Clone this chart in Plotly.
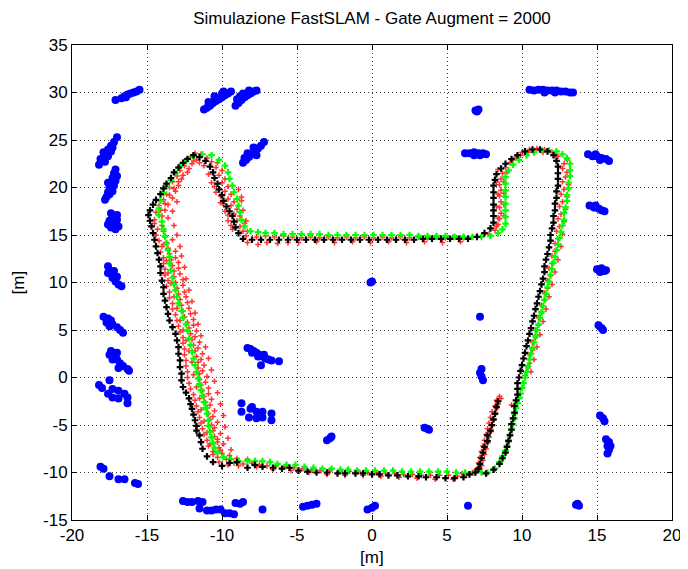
import plotly.graph_objects as go

# ---------------- data ----------------
title_text = "Simulazione FastSLAM - Gate Augment = 2000"
x_label = "[m]"
y_label = "[m]"
x_ticks = [-20, -15, -10, -5, 0, 5, 10, 15, 20]
y_ticks = [-15, -10, -5, 0, 5, 10, 15, 20, 25, 30, 35]

# true trajectory (green)
green_xy = [
    (7.7, -10.0), (8.2, -9.6), (8.5, -8.9), (8.7, -8.3), (8.9, -7.7), (9.0, -7.2), (9.1, -6.6), (9.2, -6.0),
    (9.3, -5.4), (9.4, -4.9), (9.5, -4.3), (9.5, -3.8), (9.6, -3.2), (9.7, -2.7), (9.8, -2.2), (9.9, -1.7),
    (10.0, -1.1), (10.1, -0.6), (10.2, 0.0), (10.3, 0.6), (10.4, 1.2), (10.5, 1.9), (10.6, 2.5), (10.7, 3.1),
    (10.8, 3.7), (10.9, 4.4), (11.0, 5.0), (11.1, 5.6), (11.2, 6.3), (11.3, 6.9), (11.4, 7.5), (11.5, 8.2),
    (11.6, 8.8), (11.7, 9.5), (11.8, 10.1), (11.9, 10.8), (12.0, 11.4), (12.1, 12.1), (12.2, 12.7), (12.3, 13.4),
    (12.4, 14.0), (12.5, 14.7), (12.6, 15.3), (12.7, 16.0), (12.8, 16.6), (12.8, 17.3), (12.9, 17.9), (13.0, 18.6),
    (13.0, 19.2), (13.1, 19.9), (13.1, 20.5), (13.2, 21.2), (13.2, 21.8), (13.2, 22.5), (13.0, 23.1), (12.7, 23.5),
    (12.3, 23.8), (11.8, 23.9), (11.3, 23.9), (10.8, 23.7), (10.3, 23.4), (9.8, 22.9), (9.4, 22.4), (9.1, 21.8),
    (8.9, 21.1), (8.9, 20.4), (8.9, 19.7), (8.9, 19.0), (8.9, 18.3), (8.9, 17.6), (8.9, 16.9), (8.9, 16.2),
    (8.7, 15.6), (8.4, 15.2), (7.9, 14.9), (7.3, 14.8), (6.7, 14.8),
    (6.1, 14.8), (5.5, 14.8), (4.9, 14.9), (4.3, 14.9), (3.7, 14.9), (3.1, 14.9), (2.5, 15.0), (1.9, 15.0),
    (1.3, 15.0), (0.7, 15.0), (0.1, 15.0), (-0.5, 15.0), (-1.1, 15.0), (-1.7, 15.0), (-2.3, 15.0), (-2.9, 15.0),
    (-3.5, 15.1), (-4.1, 15.1), (-4.7, 15.1), (-5.3, 15.1), (-5.9, 15.1), (-6.5, 15.2), (-7.1, 15.2), (-7.6, 15.3),
    (-8.1, 15.4),
    (-8.5, 15.9), (-8.7, 16.6), (-8.8, 17.4), (-8.9, 18.1), (-9.0, 18.8), (-9.2, 19.5), (-9.3, 20.2), (-9.5, 20.9),
    (-9.6, 21.6), (-9.8, 22.3), (-10.2, 22.9), (-10.7, 23.4), (-11.3, 23.5), (-11.9, 23.3), (-12.4, 22.8),
    (-12.8, 22.2), (-13.1, 21.5), (-13.4, 20.8), (-13.7, 20.1), (-13.9, 19.4), (-14.1, 18.6), (-14.2, 17.8),
    (-14.2, 17.1), (-14.0, 16.4), (-13.9, 15.6), (-13.8, 14.9), (-13.7, 14.1), (-13.6, 13.4), (-13.5, 12.7),
    (-13.5, 12.0), (-13.4, 11.3), (-13.3, 10.5), (-13.2, 9.8), (-13.1, 9.2), (-13.0, 8.5), (-12.9, 7.8),
    (-12.7, 7.0), (-12.6, 6.3), (-12.4, 5.6), (-12.3, 4.9), (-12.2, 4.1), (-12.1, 3.4), (-12.0, 2.7),
    (-11.9, 2.0), (-11.8, 1.3), (-11.7, 0.6), (-11.6, -0.1), (-11.5, -0.7), (-11.4, -1.3), (-11.3, -1.9),
    (-11.2, -2.6), (-11.1, -3.2), (-11.0, -3.8), (-10.9, -4.5), (-10.9, -5.1), (-10.8, -5.7), (-10.7, -6.3),
    (-10.6, -6.9), (-10.5, -7.4), (-10.3, -7.9), (-9.9, -8.4), (-9.4, -8.6), (-8.9, -8.8), (-8.3, -8.8),
    (-7.8, -8.8), (-7.3, -8.8), (-6.8, -8.9), (-6.3, -9.1), (-5.7, -9.2), (-5.1, -9.2), (-4.5, -9.4),
    (-3.9, -9.5), (-3.3, -9.6), (-2.7, -9.6), (-2.1, -9.7), (-1.6, -9.7), (-1.0, -9.8), (-0.4, -9.8),
    (0.2, -9.8), (0.8, -9.8), (1.4, -9.8), (2.0, -9.9), (2.6, -9.9), (3.2, -9.9), (3.8, -9.9), (4.4, -9.9),
    (5.0, -9.9), (5.6, -10.0), (6.2, -10.0), (6.8, -10.0), (7.3, -10.0),
]

# estimated trajectory (black)
black_xy = [
    (7.6, -10.1), (8.1, -9.7), (8.5, -9.1), (8.7, -8.5), (8.9, -7.9), (9.0, -7.3), (9.1, -6.7), (9.2, -6.1),
    (9.3, -5.5), (9.3, -4.9), (9.4, -4.3), (9.5, -3.7), (9.5, -3.0), (9.6, -2.4), (9.7, -1.8), (9.7, -1.2),
    (9.7, -0.6), (9.8, 0.0), (9.9, 0.7), (10.0, 1.3), (10.1, 2.0), (10.2, 2.6), (10.3, 3.3), (10.4, 3.9),
    (10.5, 4.6), (10.6, 5.2), (10.7, 5.9), (10.8, 6.5), (10.9, 7.2), (11.0, 7.8), (11.1, 8.5), (11.2, 9.1),
    (11.3, 9.8), (11.4, 10.4), (11.5, 11.1), (11.5, 11.7), (11.6, 12.4), (11.7, 13.0), (11.8, 13.7),
    (11.9, 14.4), (11.9, 15.0), (12.0, 15.7), (12.1, 16.3), (12.1, 17.0), (12.2, 17.6), (12.2, 18.3),
    (12.3, 18.9), (12.3, 19.6), (12.4, 20.2), (12.4, 20.9), (12.4, 21.5), (12.4, 22.2), (12.3, 22.8),
    (12.1, 23.4), (11.7, 23.8), (11.2, 24.0), (10.7, 24.0), (10.2, 23.8), (9.7, 23.4), (9.3, 23.0),
    (8.9, 22.5), (8.6, 22.0), (8.3, 21.4), (8.2, 20.8), (8.1, 20.2), (8.1, 19.5), (8.1, 18.9), (8.1, 18.2),
    (8.1, 17.6), (8.1, 17.0), (8.1, 16.3), (7.9, 15.7), (7.5, 15.2), (7.0, 14.8),
    (6.4, 14.6), (5.8, 14.6), (5.2, 14.6), (4.6, 14.6), (4.0, 14.6), (3.4, 14.6), (2.8, 14.5), (2.2, 14.5),
    (1.6, 14.5), (1.0, 14.5), (0.4, 14.5), (-0.2, 14.5), (-0.8, 14.5), (-1.4, 14.5), (-2.0, 14.5),
    (-2.6, 14.5), (-3.2, 14.5), (-3.8, 14.5), (-4.4, 14.5), (-5.0, 14.5), (-5.6, 14.5), (-6.2, 14.5),
    (-6.8, 14.5), (-7.4, 14.5), (-8.0, 14.5),
    (-8.6, 14.6), (-8.9, 15.2), (-9.1, 15.8), (-9.2, 16.4), (-9.3, 17.0), (-9.5, 17.5), (-9.7, 18.0),
    (-9.9, 18.6), (-10.0, 19.2), (-10.2, 19.8), (-10.3, 20.4), (-10.5, 21.0), (-10.6, 21.6), (-10.8, 22.2),
    (-11.1, 22.8), (-11.5, 23.2), (-11.9, 23.4), (-12.3, 23.0), (-12.6, 22.6), (-12.9, 22.1), (-13.2, 21.6),
    (-13.4, 21.0), (-13.7, 20.4), (-13.9, 19.9), (-14.1, 19.3), (-14.4, 18.7), (-14.6, 18.2), (-14.8, 17.6),
    (-14.9, 17.1), (-14.8, 16.5), (-14.7, 15.9), (-14.6, 15.2), (-14.5, 14.5), (-14.4, 13.8), (-14.3, 13.1),
    (-14.2, 12.4), (-14.1, 11.7), (-14.1, 11.0), (-14.0, 10.2), (-13.9, 9.5), (-13.9, 8.8), (-13.8, 8.1),
    (-13.7, 7.4), (-13.6, 6.7), (-13.5, 6.0), (-13.3, 5.3), (-13.1, 4.6), (-13.0, 3.9), (-12.9, 3.2),
    (-12.9, 2.5), (-12.8, 1.8), (-12.8, 1.1), (-12.7, 0.4), (-12.7, -0.3), (-12.6, -1.0), (-12.4, -1.6),
    (-12.2, -2.2), (-12.1, -2.8), (-12.0, -3.3), (-11.9, -3.9), (-11.8, -4.5), (-11.7, -5.1), (-11.7, -5.6),
    (-11.5, -6.1), (-11.4, -6.8), (-11.3, -7.5), (-11.0, -8.3), (-10.6, -8.9), (-10.0, -9.3), (-9.5, -9.0),
    (-9.0, -8.9), (-8.3, -9.5), (-7.8, -9.2), (-7.3, -9.4), (-6.6, -9.5), (-6.0, -9.6), (-5.5, -9.5),
    (-4.9, -9.8), (-4.3, -9.9), (-3.7, -10.0), (-3.0, -10.0), (-2.3, -10.1), (-1.8, -10.1), (-1.1, -10.1),
    (-0.6, -10.1), (0.0, -10.2), (0.5, -10.2), (1.1, -10.3), (1.7, -10.3), (2.4, -10.4), (3.1, -10.4),
    (3.6, -10.5), (4.3, -10.5), (4.9, -10.6), (5.5, -10.6), (6.1, -10.5), (6.5, -10.2), (6.9, -10.0),
    (7.1, -9.6), (7.2, -9.1), (7.3, -8.5), (7.4, -7.9), (7.5, -7.3), (7.7, -6.7), (7.7, -6.1), (7.9, -5.6),
    (8.0, -5.0), (8.1, -4.4), (8.2, -3.8), (8.3, -3.1), (8.4, -2.5),
]

# particles (red)
red_xy = [
    # right side
    (10.2, 0.2), (10.4, 1.0), (10.5, 1.5), (10.5, 2.4), (10.7, 2.9), (10.7, 3.7), (10.9, 4.2), (10.9, 5.0),
    (11.1, 5.5), (11.1, 6.3), (11.3, 6.8), (11.3, 7.6), (11.5, 8.1), (11.5, 8.9), (11.7, 9.4), (11.7, 10.2),
    (11.9, 10.7), (11.8, 11.5), (12.0, 12.0), (12.0, 12.8), (12.2, 13.3), (12.2, 14.1), (12.4, 14.6),
    (12.3, 15.4), (12.5, 15.9), (12.4, 16.7), (12.6, 17.2), (12.5, 18.0), (12.7, 18.5), (12.6, 19.3),
    (12.8, 19.8), (12.7, 20.6), (12.9, 21.1), (12.7, 22.0), (12.8, 22.5),
    (10.6, 0.6), (10.8, 1.9), (11.0, 3.2), (11.2, 4.5), (11.4, 5.9), (11.6, 7.2), (11.8, 8.5), (12.0, 9.8),
    (12.2, 11.1), (12.4, 12.4), (12.6, 13.8), (12.7, 15.1), (12.8, 16.4), (12.9, 17.7), (13.0, 19.0),
    (13.1, 20.3), (13.0, 21.6), (13.0, 22.9),
    # top right arc and inner leg
    (12.4, 23.3), (12.0, 23.7), (11.5, 24.0), (11.0, 24.1), (10.5, 24.0), (10.0, 23.7), (9.6, 23.2),
    (9.2, 22.6), (8.9, 22.1), (8.7, 21.5), (8.6, 20.9), (8.5, 20.3), (8.6, 19.7), (8.5, 19.1), (8.6, 18.5),
    (8.5, 17.9), (8.6, 17.3), (8.5, 16.7), (8.4, 16.1), (8.2, 15.5), (7.8, 15.1), (8.8, 20.6), (8.8, 19.4),
    (8.8, 18.2), (8.8, 17.0), (8.4, 21.9), (8.3, 20.6), (8.4, 19.3), (8.3, 18.0), (8.4, 16.8), (8.3, 15.9),
    (9.0, 21.6), (9.4, 22.9), (9.9, 23.4), (10.4, 23.7), (11.4, 23.7), (12.2, 23.4),
    # middle horizontal
    (6.1, 14.7), (5.5, 14.8), (4.9, 14.7), (4.3, 14.8), (3.7, 14.7), (3.1, 14.8), (2.5, 14.7), (1.9, 14.8),
    (1.3, 14.7), (0.7, 14.8), (0.1, 14.7), (-0.5, 14.8), (-1.1, 14.7), (-1.7, 14.8), (-2.3, 14.7),
    (-2.9, 14.8), (-3.5, 14.7), (-4.1, 14.8), (-4.7, 14.7), (-5.3, 14.8), (-5.9, 14.9), (-6.5, 14.8),
    (-7.1, 14.9), (-7.7, 14.8), (-6.3, 14.1), (-7.0, 14.2), (-7.6, 14.0), (-5.6, 14.2),
    (-4.9, 14.2), (-3.7, 14.3), (-2.5, 14.2), (-1.3, 14.3), (-0.1, 14.2), (1.1, 14.3), (2.3, 14.2),
    (3.5, 14.3), (4.7, 14.2), (5.9, 14.3), (-8.3, 14.2),
    # top-left loop
    (-8.4, 14.9), (-8.6, 15.4), (-8.8, 15.9), (-8.5, 16.2), (-9.0, 16.5), (-8.8, 17.0), (-9.2, 17.2),
    (-9.0, 17.7), (-9.4, 18.1), (-9.2, 18.5), (-9.6, 18.8), (-9.4, 19.3), (-9.8, 19.6), (-9.6, 20.1),
    (-10.0, 20.5), (-9.8, 20.9), (-10.2, 21.3), (-10.0, 21.8), (-10.4, 22.1), (-10.3, 22.6), (-10.7, 22.7),
    (-11.0, 23.1), (-9.4, 16.0), (-9.6, 17.1), (-9.9, 18.3), (-10.1, 19.1), (-10.5, 20.1), (-8.7, 18.6),
    (-8.9, 19.8), (-11.4, 23.5), (-11.8, 23.6), (-12.1, 23.2), (-12.4, 22.9), (-11.7, 22.9), (-12.0, 22.5),
    (-12.5, 22.3), (-12.8, 21.8), (-12.3, 21.6), (-13.0, 21.2), (-12.7, 20.9), (-13.3, 20.6), (-12.9, 20.2),
    (-13.5, 20.0), (-13.1, 19.6), (-13.7, 19.3), (-13.3, 18.9), (-13.9, 18.7), (-13.6, 18.2), (-14.2, 18.1),
    (-13.8, 17.6), (-14.4, 17.4), (-14.0, 17.0), (-14.5, 16.6), (-13.6, 16.8),
    (-9.3, 15.6), (-9.6, 16.5), (-9.8, 17.5), (-10.1, 18.4), (-10.4, 19.5), (-10.7, 20.5), (-10.9, 21.4),
    (-11.2, 22.3), (-8.3, 15.4), (-8.4, 16.5), (-8.6, 17.6), (-8.7, 19.0), (-11.5, 22.6), (-11.9, 22.8),
    (-12.2, 22.0), (-12.6, 21.3), (-12.9, 20.6), (-13.2, 19.9), (-13.5, 19.2), (-13.8, 18.3), (-14.1, 17.6),
    (-13.3, 17.5), (-13.0, 18.5),
    # left side
    (-14.5, 16.2), (-14.0, 16.0), (-14.3, 15.6), (-13.9, 15.4), (-14.4, 15.0), (-13.8, 14.8), (-14.2, 14.4),
    (-13.7, 14.2), (-13.3, 14.5), (-14.0, 13.8), (-13.6, 13.6), (-14.1, 13.2), (-13.5, 13.0), (-13.1, 13.3),
    (-13.9, 12.6), (-13.4, 12.4), (-13.9, 12.0), (-13.3, 11.8), (-12.9, 12.1), (-13.8, 11.4), (-13.2, 11.2),
    (-13.8, 10.8), (-13.2, 10.6), (-12.8, 10.9), (-13.6, 10.2), (-13.1, 10.0), (-13.7, 9.6), (-13.0, 9.4),
    (-12.6, 9.7), (-13.5, 9.0), (-12.9, 8.8), (-13.5, 8.4), (-12.8, 8.2), (-12.4, 8.5), (-13.3, 7.8),
    (-12.7, 7.6), (-13.3, 7.2), (-12.6, 7.0), (-12.2, 7.3), (-13.1, 6.6), (-12.5, 6.4), (-13.0, 6.0),
    (-12.3, 5.8), (-11.9, 6.1), (-12.9, 5.4), (-12.2, 5.2), (-12.8, 4.8), (-12.1, 4.6), (-11.7, 4.9),
    (-12.6, 4.2), (-12.0, 4.0), (-12.6, 3.6), (-11.9, 3.4), (-11.5, 3.7), (-12.5, 3.0), (-11.8, 2.8),
    (-12.5, 2.4), (-11.7, 2.2), (-11.3, 2.5), (-12.4, 1.8), (-11.6, 1.6), (-12.4, 1.2), (-11.6, 1.0),
    (-11.2, 1.3), (-12.3, 0.6), (-11.5, 0.4), (-12.3, 0.0), (-11.5, -0.2), (-11.0, 0.1), (-12.2, -0.6),
    (-11.4, -0.8), (-12.1, -1.2), (-11.3, -1.4), (-10.9, -1.1), (-11.9, -1.8), (-11.2, -2.0), (-11.8, -2.4),
    (-11.1, -2.6), (-10.7, -2.3), (-11.7, -3.0), (-11.0, -3.2), (-11.6, -3.6), (-10.9, -3.8), (-10.5, -3.5),
    (-11.5, -4.2), (-10.8, -4.4), (-11.4, -4.8), (-10.7, -5.0), (-10.3, -4.7), (-11.3, -5.4), (-10.6, -5.6),
    (-11.2, -6.0), (-10.5, -6.2), (-10.1, -5.9), (-11.0, -6.6), (-10.3, -6.8), (-10.9, -7.2), (-10.2, -7.4),
    (-9.9, -7.0), (-10.6, -7.8), (-10.0, -8.0), (-10.3, -8.4), (-9.7, -8.6), (-9.5, -8.2),
    (-13.2, 16.0), (-13.0, 15.0), (-12.8, 13.8), (-12.7, 12.8), (-12.5, 11.6), (-12.4, 10.4), (-12.2, 9.2),
    (-12.0, 8.0), (-11.8, 6.8), (-11.6, 5.6), (-11.4, 4.4), (-11.1, 3.2), (-10.9, 2.0), (-10.7, 0.8),
    (-10.5, -0.4), (-10.3, -1.6), (-10.1, -2.8), (-9.9, -4.0), (-9.8, -5.2), (-9.6, -6.4), (-9.4, -7.6),
    (-13.9, 14.0), (-13.7, 12.3), (-13.6, 11.0), (-13.4, 9.9), (-13.2, 8.5), (-13.0, 7.3), (-12.8, 6.0),
    (-12.6, 5.0), (-12.4, 3.9), (-12.2, 2.8), (-12.0, 1.6), (-11.9, 0.3), (-11.7, -1.0), (-11.5, -2.2),
    (-11.4, -3.4), (-11.2, -4.6), (-11.0, -5.8), (-10.8, -7.0), (-10.6, -8.1), (-13.1, 12.6), (-12.9, 11.5),
    (-12.6, 10.3), (-12.5, 9.0), (-12.3, 7.9), (-12.1, 6.7), (-11.9, 5.5), (-11.8, 4.3), (-11.6, 3.1),
    (-11.4, 1.9), (-11.3, 0.7), (-11.1, -0.5), (-10.9, -1.7), (-10.8, -2.9), (-10.6, -4.1), (-10.5, -5.3),
    (-10.3, -6.5), (-10.1, -7.7),
    # bottom
    (-9.2, -9.0), (-8.6, -9.1), (-8.0, -9.0), (-7.5, -9.2), (-7.0, -9.3), (-6.4, -9.3), (-5.8, -9.4),
    (-5.2, -9.5), (-4.6, -9.6), (-4.0, -9.7), (-3.4, -9.8), (-2.8, -9.8), (-2.1, -9.9), (-1.5, -9.9),
    (-0.9, -9.9), (-0.3, -10.0), (0.3, -10.0), (0.9, -10.1), (1.5, -10.1), (2.1, -10.2), (2.7, -10.2),
    (3.3, -10.3), (3.9, -10.3), (4.5, -10.3), (5.1, -10.3), (5.7, -10.4), (6.3, -10.3), (6.7, -10.0),
    (-9.0, -8.5), (-8.3, -8.6), (-8.9, -9.3), (-7.7, -9.4), (-6.6, -9.7), (-5.4, -9.8), (-4.2, -10.0),
    (-3.0, -10.2), (-1.8, -10.3), (-0.6, -10.3), (0.6, -10.4), (1.8, -10.5), (3.0, -10.6), (4.2, -10.7),
    (5.4, -10.7), (6.0, -10.1), (-9.6, -9.2), (-10.2, -8.9),
    # final leg
    (7.0, -9.6), (7.1, -9.0), (7.2, -8.4), (7.3, -7.8), (7.4, -7.2), (7.5, -6.6), (7.6, -6.0), (7.7, -5.4),
    (7.8, -4.8), (7.9, -4.2), (8.0, -3.6), (8.2, -3.0), (8.3, -2.4), (8.5, -2.0), (8.4, -2.8), (7.3, -9.3),
    (7.5, -8.1), (7.7, -6.9), (7.9, -5.7), (8.1, -4.5), (8.3, -3.3), (9.3, -2.9), (6.9, -9.9), (7.2, -9.6),
    (7.4, -8.7), (7.6, -7.5), (7.8, -6.3), (8.0, -5.1), (8.2, -3.9), (8.4, -2.7), (8.6, -2.2),
]

# landmarks (blue)
landmark_xy = [
    (-18.2, 22.4), (-18.0, 22.8), (-17.9, 23.2), (-17.7, 23.6), (-17.6, 24.0), (-17.4, 24.4), (-17.2, 24.8),
    (-17.0, 25.3), (-17.8, 22.7), (-17.6, 23.3), (-17.4, 23.8), (-17.9, 23.7), (-17.3, 24.2), (-18.1, 23.0),
    (-17.7, 19.0), (-17.6, 19.5), (-17.5, 20.0), (-17.4, 20.5), (-17.3, 21.0), (-17.2, 21.5), (-17.1, 21.9),
    (-17.2, 20.2), (-17.1, 20.7), (-17.5, 19.3), (-17.8, 18.7), (-17.0, 21.2), (-17.6, 20.5), (-17.3, 19.6),
    (-17.4, 17.3), (-17.3, 16.9), (-17.5, 16.5), (-17.2, 16.2), (-17.4, 15.8), (-17.1, 15.6), (-17.0, 16.6),
    (-17.0, 17.1), (-17.6, 16.1), (-16.9, 15.9),
    (-17.6, 11.7), (-17.5, 11.3), (-17.4, 10.9), (-17.3, 10.5), (-17.1, 10.1), (-16.9, 9.8), (-16.7, 9.6),
    (-17.2, 11.2), (-17.0, 10.6), (-17.6, 11.0),
    (-17.9, 6.4), (-17.6, 6.2), (-17.4, 6.0), (-17.7, 5.8), (-17.3, 5.6), (-17.0, 5.3), (-16.8, 5.0),
    (-16.6, 4.7), (-17.5, 5.4),
    (-17.4, 2.8), (-17.5, 2.4), (-17.2, 2.2), (-17.0, 1.9), (-16.8, 1.5), (-16.6, 1.2), (-16.3, 0.9),
    (-16.2, 0.7), (-17.3, 1.9), (-16.9, 1.0), (-17.0, 2.6),
    (-18.2, -0.8), (-18.0, -1.1), (-17.5, -0.3), (-17.6, -1.7), (-17.3, -1.2), (-16.9, -1.4), (-17.3, -2.1),
    (-16.9, -2.2), (-16.5, -1.7), (-16.3, -2.1), (-16.3, -2.7),
    (-18.1, -9.4), (-17.9, -9.6), (-17.5, -10.4), (-16.9, -10.7), (-16.5, -10.7), (-15.8, -11.1),
    (-15.6, -11.2),
    (-17.1, 29.2), (-16.7, 29.4), (-16.5, 29.6), (-16.3, 29.8), (-16.1, 29.9), (-15.9, 30.0), (-15.7, 30.1),
    (-15.5, 30.3), (-16.4, 29.5),
    (-11.0, 28.4), (-10.8, 28.6), (-10.6, 28.9), (-10.4, 29.1), (-10.2, 29.3), (-10.0, 29.5), (-9.8, 29.7),
    (-9.6, 29.9), (-9.4, 30.1), (-10.5, 29.6), (-10.0, 29.9), (-10.9, 29.0), (-11.2, 28.2), (-9.9, 30.1),
    (-9.1, 28.6), (-8.9, 28.9), (-8.7, 29.2), (-8.5, 29.5), (-8.3, 29.7), (-8.1, 29.9), (-7.9, 30.1),
    (-7.7, 30.2), (-8.6, 29.9), (-8.8, 29.6), (-8.2, 30.2), (-9.0, 29.3),
    (-8.6, 22.6), (-8.4, 22.9), (-8.2, 23.2), (-8.0, 23.5), (-7.8, 23.8), (-7.6, 24.1), (-7.4, 24.4),
    (-7.2, 24.8), (-8.3, 23.6), (-7.9, 24.2), (-8.5, 23.1), (-7.7, 23.4),
    (10.5, 30.3), (10.8, 30.2), (11.1, 30.3), (11.4, 30.3), (11.7, 30.2), (12.0, 30.2), (12.3, 30.2),
    (12.6, 30.1), (12.9, 30.1), (13.2, 30.0), (13.4, 30.0), (11.5, 30.0), (12.2, 30.0),
    (6.9, 28.1), (7.1, 28.2), (7.0, 28.0),
    (6.2, 23.6), (6.5, 23.6), (6.8, 23.7), (7.1, 23.6), (7.4, 23.6), (7.6, 23.5), (6.8, 23.4), (7.2, 23.4),
    (14.4, 23.5), (14.7, 23.3), (15.0, 23.3), (15.3, 23.1), (15.6, 23.0), (15.8, 22.8), (15.2, 22.9),
    (14.9, 23.5),
    (14.5, 18.1), (14.8, 17.9), (15.1, 17.8), (15.3, 17.6), (15.5, 17.5), (14.9, 18.1),
    (15.0, 11.4), (15.3, 11.5), (15.5, 11.2), (15.2, 11.1), (15.6, 11.3),
    (15.1, 5.5), (15.3, 5.2), (15.4, 5.0),
    (15.2, -4.0), (15.4, -4.3), (15.5, -4.6),
    (15.6, -6.5), (15.8, -6.8), (15.7, -7.2), (15.8, -7.6), (15.7, -8.0), (15.9, -7.2),
    (-8.3, 3.1), (-8.1, 3.0), (-7.9, 2.8), (-7.7, 2.6), (-7.5, 2.4), (-7.3, 2.2), (-7.1, 2.0), (-6.9, 1.9),
    (-6.7, 1.8), (-8.0, 2.6), (-7.6, 2.2), (-7.2, 2.4), (-7.4, 1.3), (-6.2, 1.7),
    (-8.7, -2.7), (-8.7, -3.6), (-8.1, -3.3), (-7.7, -3.6), (-7.3, -3.6), (-8.2, -4.2), (-7.7, -4.3),
    (-7.3, -4.2), (-6.7, -3.8), (-6.7, -4.5), (-8.0, -3.1),
    (-3.0, -6.6), (-2.8, -6.4), (-2.7, -6.2),
    (3.5, -5.3), (3.7, -5.4), (3.8, -5.5),
    (0.0, 10.1), (-0.1, 10.0),
    (7.2, 6.4),
    (7.3, 0.9), (7.2, 0.5), (7.3, 0.1), (7.4, -0.3),
    (-12.6, -13.0), (-12.3, -13.1), (-12.0, -13.1), (-11.6, -13.0), (-11.3, -13.1), (-11.5, -13.8),
    (-11.0, -14.0), (-10.7, -14.0), (-10.4, -13.9), (-10.1, -13.9), (-9.8, -14.3), (-9.5, -14.3),
    (-9.2, -14.4), (-9.1, -13.2), (-8.8, -13.3), (-8.6, -13.1), (-7.3, -13.9), (-4.6, -13.6), (-4.3, -13.5),
    (-4.0, -13.4), (-3.7, -13.3), (-0.3, -13.9), (0.0, -13.7), (0.2, -13.5), (6.4, -13.5), (13.6, -13.4),
    (13.8, -13.5), (13.7, -13.3),
]

# ---------------- figure ----------------
FONT = "Liberation Sans, Arial, Helvetica, sans-serif"


def unzip(pts):
    return [p[0] for p in pts], [p[1] for p in pts]


fig = go.Figure()

lx, ly = unzip(landmark_xy)
fig.add_trace(go.Scatter(x=lx, y=ly, mode="markers",
                         marker=dict(symbol="circle", size=8, color="#0000ff", line=dict(width=0)),
                         hoverinfo="skip", showlegend=False))

rx, ry = unzip(red_xy)
fig.add_trace(go.Scatter(x=rx, y=ry, mode="markers",
                         marker=dict(symbol="cross-thin", size=4, color="#ff0000",
                                     line=dict(width=1.5, color="#ff0000")),
                         opacity=0.8, hoverinfo="skip", showlegend=False))

gx, gy = unzip(green_xy)
fig.add_trace(go.Scatter(x=gx, y=gy, mode="markers",
                         marker=dict(symbol="cross", size=5.5, color="#00ff00", line=dict(width=0)),
                         hoverinfo="skip", showlegend=False))

bx, by = unzip(black_xy)
fig.add_trace(go.Scatter(x=bx, y=by, mode="markers",
                         marker=dict(symbol="cross", size=5.5, color="#000000", line=dict(width=0)),
                         hoverinfo="skip", showlegend=False))

axis_common = dict(
    showgrid=True, gridcolor="rgba(0,0,0,0.75)", gridwidth=1, griddash="1px,3px",
    zeroline=False, showline=True, linecolor="black", linewidth=1, mirror="ticks",
    ticks="inside", ticklen=5, tickcolor="black", automargin=False,
    tickfont=dict(family=FONT, size=17, color="black"),
)

# the page body adds an 8 px offset, so the figure is 8 px smaller and margins shifted
fig.update_layout(
    width=680, height=561,
    margin=dict(l=64, r=16, t=37, b=49, autoexpand=False),
    paper_bgcolor="white", plot_bgcolor="white",
    title=dict(text=title_text, x=0.5, xref="paper", xanchor="center",
               y=1 - 10 / 561, yref="container", yanchor="middle",
               font=dict(family=FONT, size=17, color="black")),
    xaxis=dict(range=[-20, 20], tickvals=x_ticks, ticktext=[str(v) for v in x_ticks], **axis_common),
    yaxis=dict(range=[-15, 35], tickvals=y_ticks, ticktext=[str(v) for v in y_ticks], **axis_common),
    annotations=[
        dict(text=x_label, xref="paper", yref="paper", x=0.5, y=-0.079, xanchor="center", yanchor="middle",
             showarrow=False, font=dict(family=FONT, size=17, color="black")),
        dict(text=y_label, xref="paper", yref="paper", x=-0.09, y=0.5, xanchor="center", yanchor="middle",
             textangle=-90, showarrow=False, font=dict(family=FONT, size=17, color="black")),
    ],
)

fig.write_html("out.html")
